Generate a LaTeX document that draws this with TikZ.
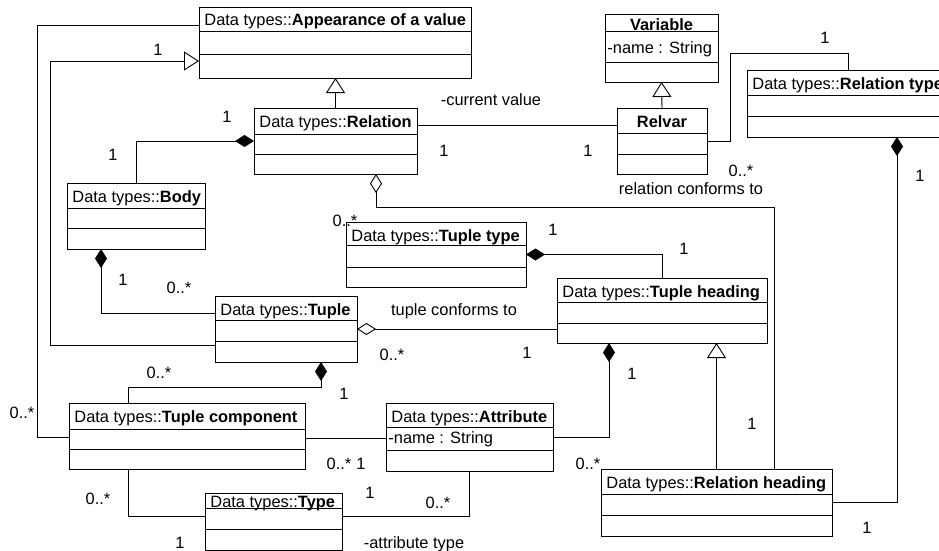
\documentclass[tikz,border=0pt]{standalone}
\usepackage{fontspec}
\setmainfont{Liberation Sans}
\usetikzlibrary{arrows.meta,calc}

\begin{document}
\begin{tikzpicture}[x=1pt, y=-1pt, line width=0.9pt,
  cls/.style={draw, rectangle, anchor=north west, inner sep=0pt, outer sep=0pt},
  ttl/.style={font=\fontsize{16.4}{19}\selectfont, inner sep=0pt},
  lbl/.style={font=\fontsize{16.4}{19}\selectfont, inner sep=0pt, anchor=base},
  gen/.style={-{Triangle[open, length=15pt, width=19pt]}},
  comp/.style={{Diamond[length=19pt, width=12pt]}-},
  aggr/.style={{Diamond[open, length=19pt, width=12pt]}-}]
  % canvas 939 x 551, y grows downwards
  \useasboundingbox (0,0) rectangle (939,551);
  \clip (0,0) rectangle (939,551);

  % classes: name / left / top / right / bottom / header line / divider / title
  \foreach \n/\xa/\ya/\xb/\yb/\ha/\hb/\t in {
    app/199/7/471/78/31/54/{Data types::\textbf{Appearance of a value}},
    rel/254/108/417/174/134/154/{Data types::\textbf{Relation}},
    body/67/183/205/249/208/228/{Data types::\textbf{Body}},
    ttype/346/222/526/287/245/267/{Data types::\textbf{Tuple type}},
    tuple/215/296/357/362/320/341/{Data types::\textbf{Tuple}},
    thead/557/278/767/343/302/323/{Data types::\textbf{Tuple heading}},
    tcomp/69/403/305/469/429/449/{Data types::\textbf{Tuple component}},
    attr/386/403/553/471/427/450/{Data types::\textbf{Attribute}},
    type/205/493/342/550/508/529/{Data types::\textbf{Type}},
    relhead/601/469/832/536/494/515/{Data types::\textbf{Relation heading}},
    reltype/747/70/960/137/95/116/{Data types::\textbf{Relation type}}} {
    \node[cls, minimum width={(\xb-\xa)*1pt}, minimum height={(\yb-\ya)*1pt}] (\n) at (\xa,\ya) {};
    \draw (\n.west |- 0,\ha) -- (\n.east |- 0,\ha);
    \draw (\n.west |- 0,\hb) -- (\n.east |- 0,\hb);
    \node[ttl, anchor=base west] (\n-t) at ({\xa+5}, {min(\ya+19,\ha-1)}) {\t};
  }

  % classes with centred titles (Variable, Relvar)
  \foreach \n/\xa/\ya/\xb/\yb/\ha/\hb/\t in {
    var/605/14/718/82/31/62/{\textbf{Variable}},
    relvar/617/108/707/174/133/154/{\textbf{Relvar}}} {
    \node[cls, minimum width={(\xb-\xa)*1pt}, minimum height={(\yb-\ya)*1pt}] (\n) at (\xa,\ya) {};
    \draw (\n.west |- 0,\ha) -- (\n.east |- 0,\ha);
    \draw (\n.west |- 0,\hb) -- (\n.east |- 0,\hb);
    \node[ttl, anchor=base] (\n-t) at ({(\xa+\xb)/2}, {min(\ya+19,\ha)}) {\t};
  }

  % attributes
  \node[ttl, anchor=west] (var-a) at (607,49) {-name : String};
  \node[ttl, anchor=west] (attr-a) at (388,439) {-name : String};

  % generalizations
  \draw[gen] (rel.north) -- (app.south -| rel.north);
  \draw[gen] (tuple.west |- 0,345) -| (50,61) -- (app.west |- 0,61);
  \draw[gen] (relvar.north) -- (var.south);
  \draw[gen] (relhead.north) -- (thead.south -| relhead.north);

  % compositions
  \draw[comp] (rel.west |- 0,141) -| (body.north);
  \draw[comp] (body.south -| 101,0) |- (tuple.west |- 0,313);
  \draw[comp] (tuple.south -| 321,0) |- (128,387) -- (tcomp.north -| 128,0);
  \draw[comp] (thead.south -| 609,0) |- (attr.east |- 0,437);
  \draw[comp] (ttype.east) -| (thead.north);
  \draw[comp] (reltype.south -| 897,0) |- (relhead.east);

  % aggregations
  \draw[aggr] (tuple.east) -- (thead.west |- tuple.east);
  \draw[aggr] (rel.south -| 376,0) |- (774,207) -- (relhead.north -| 774,0);

  % plain associations
  \draw (tcomp.west |- 0,437) -| (37,25) -- (app.west |- 0,25);
  \draw (tcomp.east |- 0,438) -- (attr.west |- 0,438);
  \draw (tcomp.south -| 128,0) |- (type.west |- 0,516);
  \draw (type.east |- 0,516) -| (attr.south);
  \draw (rel.east |- 0,125) -- (relvar.west |- 0,125);
  \draw (relvar.east) -| (730,53) -| (reltype.north -| 848,0);

  % multiplicities and role names (x / baseline / text)
  \foreach \lx/\ly/\lt [count=\i] in {
    158/56/1, 22/418/{0..*}, 491/105/{-current value}, 227/122/1, 113/160/1,
    444/156/1, 588/156/1, 825/44/1, 741/176/{0..*}, 691/194/{relation conforms to},
    920/181/1, 345/226/{0..*}, 553/235/1, 684/254/1, 123/285/1, 179/293/{0..*},
    454/315/{tuple conforms to}, 392/360/{0..*}, 527/358/1, 632/379/1,
    159/378/{0..*}, 344/399/1, 339/469/{0..*}, 361/469/1, 752/429/1,
    588/469/{0..*}, 98/504/{0..*}, 370/498/1, 438/508/{0..*}, 180/548/1,
    414/548/{-attribute type}, 867/533/1} {
    \node[lbl] (m\i) at (\lx,\ly) {\lt};
  }
\end{tikzpicture}
\end{document}
